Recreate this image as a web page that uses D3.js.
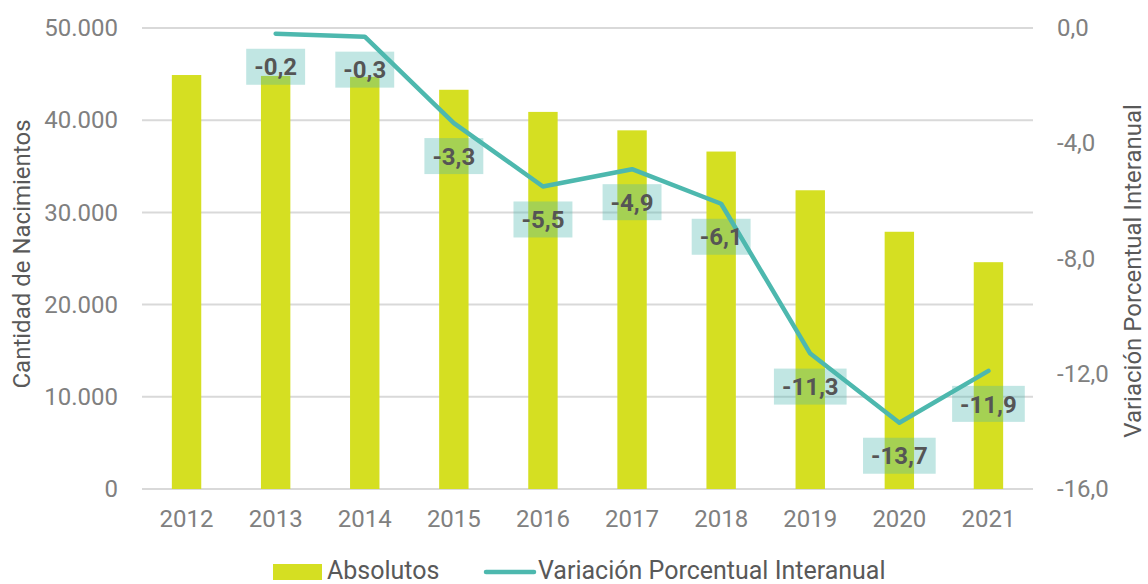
<!DOCTYPE html>
<html>
<head>
<meta charset="utf-8">
<script src="https://cdn.jsdelivr.net/npm/d3@7"></script>
<style>
  body { margin: 0; background: #fff; }
  text { font-family: Roboto, "Noto Sans", sans-serif; }
</style>
</head>
<body>
<div id="chart"></div>
<script>
// Data
var years       = ["2012", "2013", "2014", "2015", "2016", "2017", "2018", "2019", "2020", "2021"];
var absolutos   = [44900, 44800, 44700, 43300, 40900, 38900, 36600, 32400, 27900, 24600];
var variacion   = [null, -0.2, -0.3, -3.3, -5.5, -4.9, -6.1, -11.3, -13.7, -11.9];
var leftTicks   = [0, 10000, 20000, 30000, 40000, 50000];
var rightTicks  = [0, -4, -8, -12, -16];

// Size
var chart_width  = 1148;
var chart_height = 584;
var margin = { top: 28, right: 115, bottom: 95, left: 142 };

var barColor  = "#d5df22";
var lineColor = "#4db8ae";
var gray      = "#808080";
var darkGray  = "#595959";

var svg = d3.select("#chart")
    .append("svg")
    .attr("width", chart_width)
    .attr("height", chart_height);

// Scales
var x = d3.scaleBand()
    .domain(years)
    .range([margin.left, chart_width - margin.right])
    .paddingInner(0.67)
    .paddingOuter(0.335);

var xc = function(d) { return x(d) + x.bandwidth() / 2; };

var yLeft = d3.scaleLinear()
    .domain([0, 50000])
    .range([chart_height - margin.bottom, margin.top]);

var yRight = d3.scaleLinear()
    .domain([-16, 0])
    .range([chart_height - margin.bottom, margin.top]);

var esLocale = d3.formatLocale({ decimal: ",", thousands: ".", grouping: [3], currency: ["", ""], minus: "-" });
var fmtThousands = esLocale.format(",.0f");
var fmtOneDec    = esLocale.format(".1f");

// Gridlines
svg.append("g")
    .selectAll("line")
    .data(leftTicks)
    .enter()
    .append("line")
    .attr("x1", margin.left)
    .attr("x2", chart_width - margin.right)
    .attr("y1", function(d) { return yLeft(d); })
    .attr("y2", function(d) { return yLeft(d); })
    .style("stroke", "#d9d9d9")
    .style("stroke-width", 2);

// Left axis
var leftAxis = svg.append("g")
    .attr("transform", "translate(" + (margin.left - 24) + ",0)")
    .call(d3.axisLeft(yLeft).tickValues(leftTicks).tickSize(0).tickFormat(fmtThousands));
leftAxis.select(".domain").remove();
leftAxis.selectAll("text")
    .attr("x", 0)
    .style("font-size", "24px")
    .style("fill", gray);

// Right axis
var rightAxis = svg.append("g")
    .attr("transform", "translate(" + (chart_width - margin.right + 24) + ",0)")
    .call(d3.axisRight(yRight).tickValues(rightTicks).tickSize(0).tickFormat(fmtOneDec));
rightAxis.select(".domain").remove();
rightAxis.selectAll("text")
    .attr("x", 0)
    .style("font-size", "24px")
    .style("fill", gray);

// Bottom axis
var bottomAxis = svg.append("g")
    .attr("transform", "translate(0," + (chart_height - margin.bottom) + ")")
    .call(d3.axisBottom(x).tickSize(0));
bottomAxis.select(".domain").remove();
bottomAxis.selectAll("text")
    .attr("y", 21)
    .style("font-size", "24px")
    .style("fill", gray);

// Axis titles
svg.append("text")
    .attr("transform", "translate(30,254) rotate(-90)")
    .attr("text-anchor", "middle")
    .style("font-size", "24px")
    .style("fill", darkGray)
    .text("Cantidad de Nacimientos");

svg.append("text")
    .attr("transform", "translate(1141,271) rotate(-90)")
    .attr("text-anchor", "middle")
    .style("font-size", "24px")
    .style("fill", darkGray)
    .text("Variación Porcentual Interanual");

// Bars
svg.append("g")
    .selectAll("rect")
    .data(absolutos)
    .enter()
    .append("rect")
    .attr("x", function(d, i) { return x(years[i]); })
    .attr("y", function(d) { return yLeft(d); })
    .attr("width", x.bandwidth())
    .attr("height", function(d) { return yLeft(0) - yLeft(d); })
    .style("fill", barColor);

// Line
var points = variacion.map(function(v, i) { return { year: years[i], v: v }; })
    .filter(function(d) { return d.v !== null; });

var line = d3.line()
    .x(function(d) { return xc(d.year); })
    .y(function(d) { return yRight(d.v); });

svg.append("path")
    .datum(points)
    .attr("d", line)
    .style("fill", "none")
    .style("stroke", lineColor)
    .style("stroke-width", 4.5)
    .style("stroke-linecap", "round")
    .style("stroke-linejoin", "round");

// Data labels (boxes below each point)
var labels = svg.append("g")
    .selectAll("g")
    .data(points)
    .enter()
    .append("g")
    .attr("transform", function(d) { return "translate(" + xc(d.year) + "," + (yRight(d.v) + 33) + ")"; });

labels.append("text")
    .attr("text-anchor", "middle")
    .attr("dy", "0.36em")
    .style("font-size", "24px")
    .style("font-weight", "bold")
    .style("fill", "#555555")
    .text(function(d) { return fmtOneDec(d.v); });

labels.each(function() {
    var g = d3.select(this);
    var bb = g.select("text").node().getBBox();
    g.insert("rect", "text")
        .attr("x", bb.x - 8)
        .attr("y", -18)
        .attr("width", bb.width + 16)
        .attr("height", 36)
        .style("fill", lineColor)
        .style("fill-opacity", 0.35);
});

// Legend
var legend = svg.append("g");
legend.append("rect")
    .attr("x", 273).attr("y", 564)
    .attr("width", 49).attr("height", 16)
    .style("fill", barColor);
legend.append("text")
    .attr("x", 327).attr("y", 579)
    .style("font-size", "25px")
    .style("fill", darkGray)
    .text("Absolutos");
legend.append("line")
    .attr("x1", 486).attr("x2", 534)
    .attr("y1", 572).attr("y2", 572)
    .style("stroke", lineColor)
    .style("stroke-width", 4.5)
    .style("stroke-linecap", "round");
legend.append("text")
    .attr("x", 538).attr("y", 579)
    .style("font-size", "25px")
    .style("fill", darkGray)
    .text("Variación Porcentual Interanual");
</script>
</body>
</html>
